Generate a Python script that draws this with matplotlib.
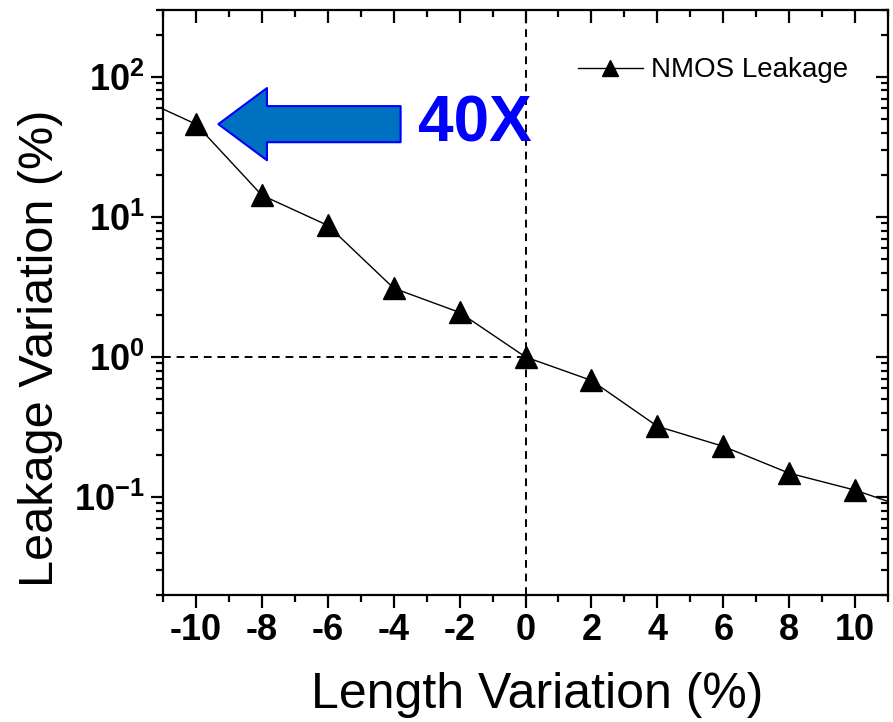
import matplotlib
matplotlib.use("Agg")
import matplotlib.pyplot as plt
from matplotlib.ticker import FixedLocator, LogLocator, NullFormatter
from matplotlib.lines import TICKDOWN, TICKLEFT

plt.rcParams['font.family'] = ['Liberation Sans', 'DejaVu Sans']
plt.rcParams['mathtext.fontset'] = 'custom'
plt.rcParams['mathtext.rm'] = 'Liberation Sans:bold'
plt.rcParams['mathtext.bf'] = 'Liberation Sans:bold'
plt.rcParams['mathtext.it'] = 'Liberation Sans:bold'

# Data
length_var = [-11, -10, -8, -6, -4, -2, 0, 2, 4, 6, 8, 10, 11]
leakage_var = [59, 46, 14.3, 8.7, 3.1, 2.08, 1.0, 0.68, 0.32, 0.23, 0.148, 0.112, 0.093]
series_label = "NMOS Leakage"
x_ticks = [-10, -8, -6, -4, -2, 0, 2, 4, 6, 8, 10]
x_tick_labels = ["-10", "-8", "-6", "-4", "-2", "0", "2", "4", "6", "8", "10"]
y_ticks = [0.1, 1, 10, 100]
y_tick_labels = [r"$\mathbf{10^{-1}}$", r"$\mathbf{10^{0}}$", r"$\mathbf{10^{1}}$", r"$\mathbf{10^{2}}$"]
annot_text = "40X"
ref_x = 0
ref_y = 1

fig = plt.figure(figsize=(8.93, 7.22), dpi=100)
ax = fig.add_axes([0.1825, 0.176, 0.812, 0.810])

n = len(length_var)
ax.plot(length_var, leakage_var, color='black', lw=1.0, marker='^', ms=16,
        markevery=list(range(1, n - 1)), label=series_label, zorder=3)

ax.set_yscale('log')
ax.set_xlim(-11, 11)
ax.set_ylim(0.02, 300)

# dashed reference lines
ax.axvline(ref_x, color='black', lw=1.4, ls=(0, (4, 3)), zorder=2)
ax.plot([-11, ref_x], [ref_y, ref_y], color='black', lw=1.4, ls=(0, (4, 3)), zorder=2)

# ticks
ax.xaxis.set_major_locator(FixedLocator(x_ticks))
ax.set_xticklabels(x_tick_labels, fontsize=26, fontweight='bold')
ax.xaxis.set_minor_locator(FixedLocator([-11, -9, -7, -5, -3, -1, 1, 3, 5, 7, 9, 11]))
ax.yaxis.set_major_locator(FixedLocator(y_ticks))
ax.set_yticklabels(y_tick_labels, fontsize=26)
ax.yaxis.set_minor_locator(LogLocator(base=10, subs=range(2, 10)))
ax.yaxis.set_minor_formatter(NullFormatter())

ax.tick_params(axis='both', which='major', length=9, width=1.6, direction='out', pad=4)
ax.tick_params(axis='both', which='minor', length=5, width=1.6, direction='out')
ax.tick_params(axis='both', which='both', top=True, right=True)
for t in ax.xaxis.get_major_ticks() + ax.xaxis.get_minor_ticks():
    t.tick1line.set_marker(TICKDOWN)
    t.tick2line.set_marker(TICKDOWN)
for t in ax.yaxis.get_major_ticks() + ax.yaxis.get_minor_ticks():
    t.tick1line.set_marker(TICKLEFT)
    t.tick2line.set_marker(TICKLEFT)

for s in ax.spines.values():
    s.set_linewidth(1.6)

ax.set_xlabel("Length Variation (%)", fontsize=36)
ax.set_ylabel("Leakage Variation (%)", fontsize=35)
ax.xaxis.set_label_coords(0.516, -0.131)
ax.yaxis.set_label_coords(-0.138, 0.422)

# arrow
arrow_y = leakage_var[1]
ax.annotate('', xy=(-9.32, arrow_y), xytext=(-3.79, arrow_y),
            arrowprops=dict(arrowstyle='simple,head_length=35,head_width=52,tail_width=26',
                            mutation_scale=1, fc='#0070C0', ec='#0000FF', lw=1.5,
                            shrinkA=0, shrinkB=0), zorder=4)
ax.text(-3.25, arrow_y, annot_text, color='#0000FF', fontsize=46, fontweight='bold',
        ha='left', va='center', zorder=5)

leg = ax.legend(loc='center left', bbox_to_anchor=(0.572, 0.897), frameon=False,
                fontsize=20, handlelength=2.35, handletextpad=0.3, borderpad=0,
                borderaxespad=0, markerscale=0.75)

fig.savefig("out.png", dpi=100)
